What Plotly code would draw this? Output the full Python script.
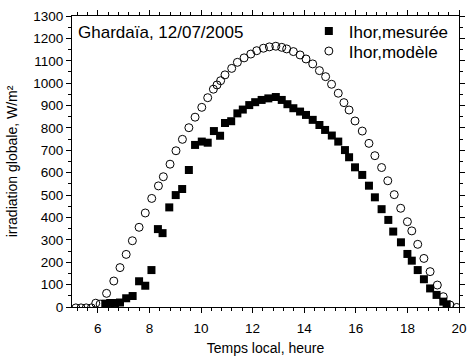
import plotly.graph_objects as go

# Measured global irradiation (squares)
t_mes = [6.29, 6.48, 6.67, 6.86, 7.10, 7.35, 7.60, 7.84, 8.08, 8.33, 8.51, 8.77,
         9.02, 9.27, 9.53, 9.77, 10.03, 10.26, 10.50, 10.74, 10.93, 11.17, 11.41,
         11.62, 11.87, 12.10, 12.35, 12.61, 12.90, 13.13, 13.35, 13.58, 13.84,
         14.07, 14.33, 14.59, 14.81, 15.07, 15.32, 15.58, 15.74, 15.97, 16.25,
         16.51, 16.74, 17.00, 17.26, 17.45, 17.75, 18.00, 18.17, 18.40, 18.64,
         18.88, 19.13, 19.39, 19.52]
i_mes = [15, 18, 18, 20, 39, 49, 115, 95, 165, 348, 330, 445,
         500, 527, 612, 724, 739, 734, 786, 765, 822, 830, 865,
         882, 902, 915, 925, 932, 938, 925, 906, 888, 873,
         858, 836, 813, 791, 766, 739, 701, 669, 624, 590,
         542, 490, 437, 389, 337, 289, 237, 207, 165, 124,
         83, 54, 24, 12]

# Model global irradiation (open circles)
t_mod = [5.15, 5.35, 5.55, 5.75, 5.92, 6.09, 6.34, 6.62, 6.86, 7.10, 7.34, 7.60,
         7.84, 8.09, 8.35, 8.54, 8.80, 9.03, 9.28, 9.53, 9.77, 10.03, 10.26,
         10.48, 10.62, 10.76, 10.93, 11.19, 11.41, 11.67, 11.93, 12.16, 12.42,
         12.65, 12.90, 13.13, 13.32, 13.58, 13.84, 14.07, 14.33, 14.59, 14.83,
         15.06, 15.32, 15.54, 15.74, 15.97, 16.25, 16.51, 16.74, 17.00, 17.24,
         17.49, 17.74, 18.00, 18.17, 18.40, 18.64, 18.88, 19.16, 19.39, 19.65,
         19.91]
i_mod = [-4, -4, -4, -4, 17, 13, 61, 116, 176, 235, 296, 356,
         420, 485, 541, 582, 638, 698, 749, 801, 848, 892, 935,
         973, 992, 1011, 1037, 1066, 1093, 1113, 1130, 1145, 1156,
         1162, 1165, 1160, 1153, 1141, 1126, 1108, 1086, 1056, 1029,
         995, 955, 913, 880, 831, 786, 731, 676, 623, 564,
         502, 441, 381, 340, 280, 217, 158, 98, 46, 9,
         -2]

x_ticks = [6, 8, 10, 12, 14, 16, 18, 20]
y_ticks = list(range(0, 1301, 100))

FONT = "Liberation Sans, Arial, sans-serif"

fig = go.Figure()
fig.add_trace(go.Scatter(
    x=t_mes, y=i_mes, mode="markers", name="Ihor,mesurée", legend="legend",
    marker=dict(symbol="square", size=8, color="black", line=dict(width=0)),
))
fig.add_trace(go.Scatter(
    x=t_mod, y=i_mod, mode="markers", name="Ihor,modèle", legend="legend2",
    marker=dict(symbol="circle-open", size=8, color="black", line=dict(width=1, color="black")),
))

axis_common = dict(
    showline=True, linecolor="black", linewidth=1, mirror="ticks",
    ticks="outside", ticklen=5, tickwidth=1, tickcolor="black",
    showgrid=False, zeroline=False, automargin=False,
    tickfont=dict(family=FONT, size=13.5, color="black"),
)

legend_common = dict(
    xanchor="left", yanchor="top",
    bgcolor="rgba(0,0,0,0)", borderwidth=0,
    font=dict(family=FONT, size=17, color="black"),
)

fig.update_layout(
    width=469, height=356,
    margin=dict(l=72, r=10, t=16, b=49),
    paper_bgcolor="white", plot_bgcolor="white",
    font=dict(family=FONT, color="black"),
    xaxis=dict(
        range=[5, 20], tickvals=x_ticks, ticklabelstandoff=4,
        minor=dict(dtick=0.4, tick0=6, ticks="outside", ticklen=3, tickcolor="black", tickwidth=1),
        title=dict(text="Temps local, heure", font=dict(family=FONT, size=14), standoff=12),
        **axis_common,
    ),
    yaxis=dict(
        range=[0, 1300], tickvals=y_ticks,
        minor=dict(dtick=50, ticks="outside", ticklen=3, tickcolor="black", tickwidth=1),
        title=dict(text="irradiation globale, W/m²", font=dict(family=FONT, size=14), standoff=12),
        **axis_common,
    ),
    legend=dict(x=0.612, y=1.009, **legend_common),
    legend2=dict(x=0.612, y=0.94, **legend_common),
    showlegend=True,
)

fig.add_annotation(
    x=0.0, y=1.0, xref="paper", yref="paper", xanchor="left", yanchor="top",
    xshift=4, yshift=-5,
    text="Ghardaïa, 12/07/2005", showarrow=False,
    font=dict(family=FONT, size=17, color="black"),
)

fig.write_html("out.html")
